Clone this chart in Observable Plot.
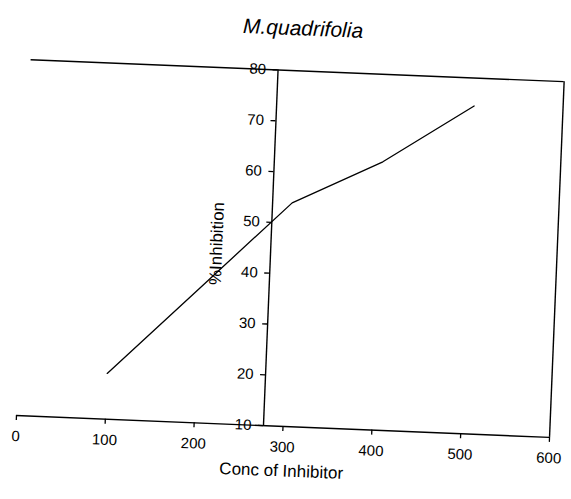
<!DOCTYPE html>
<html>
<head>
<meta charset="utf-8">
<script src="https://cdn.jsdelivr.net/npm/d3@7"></script>
<script src="https://cdn.jsdelivr.net/npm/@observablehq/plot@0.6"></script>
<style>
  html, body { margin: 0; padding: 0; background: #fff; overflow: hidden; width: 571px; height: 499px; }
  #wrap { position: relative; width: 571px; height: 499px; transform-origin: 16px 415px; transform: rotate(2.35deg); }
  #title { position: absolute; left: 0; width: 574px; top: 5px; text-align: center;
           font-family: "Liberation Sans", Arial, sans-serif; font-style: italic; font-size: 21px; color: #000; }
  #chart { position: absolute; left: 0; top: 0; }
</style>
</head>
<body>
<div id="wrap">
  <div id="title">M.quadrifolia</div>
  <div id="chart"></div>
</div>
<script>
const concentration = [100, 200, 300, 400, 500];
const inhibition = [19, 36.5, 54, 62.8, 74.5];
const xTicks = [0, 100, 200, 300, 400, 500, 600];
const yTicks = [10, 20, 30, 40, 50, 60, 70, 80];
const yAxisAt = 278;
const xLabel = "Conc of Inhibitor";
const yLabel = "%Inhibition";

const data = concentration.map((c, i) => ({c, v: inhibition[i]}));

const plot = Plot.plot({
  width: 571,
  height: 499,
  marginLeft: 16,
  marginRight: 21.5,
  marginTop: 59,
  marginBottom: 84,
  style: {fontFamily: "Liberation Sans, Arial, sans-serif", fontSize: "15px", color: "#000", background: "transparent", overflow: "visible"},
  x: {domain: [0, 600]},
  y: {domain: [10, 80], axis: null},
  marks: [
    Plot.ruleY([10], {stroke: "#000", strokeWidth: 1.4}),
    Plot.ruleY([80], {stroke: "#000", strokeWidth: 1.4}),
    Plot.ruleX([600], {stroke: "#000", strokeWidth: 1.4}),
    Plot.ruleX([yAxisAt], {stroke: "#000", strokeWidth: 1.4}),
    Plot.axisX(xTicks, {anchor: "bottom", tickSize: 5, tickPadding: 10, fontSize: 15, label: null, stroke: "#000", strokeWidth: 1.3}),
    Plot.ruleY(yTicks, {y: d => d, x1: yAxisAt - 5.6, x2: yAxisAt, stroke: "#000", strokeWidth: 1.3}),
    Plot.text(yTicks, {x: yAxisAt, y: d => d, text: d => String(d), dx: -12, textAnchor: "end", fontSize: 15, fill: "#000"}),
    Plot.text([xLabel], {frameAnchor: "bottom", dy: 50, fontSize: 17, fill: "#000"}),
    Plot.text([yLabel], {x: yAxisAt, y: 45.4, dx: -54, rotate: -90, fontSize: 17, fill: "#000"}),
    Plot.line(data, {x: "c", y: "v", stroke: "#000", strokeWidth: 1.3})
  ]
});
document.getElementById("chart").appendChild(plot);
</script>
</body>
</html>
